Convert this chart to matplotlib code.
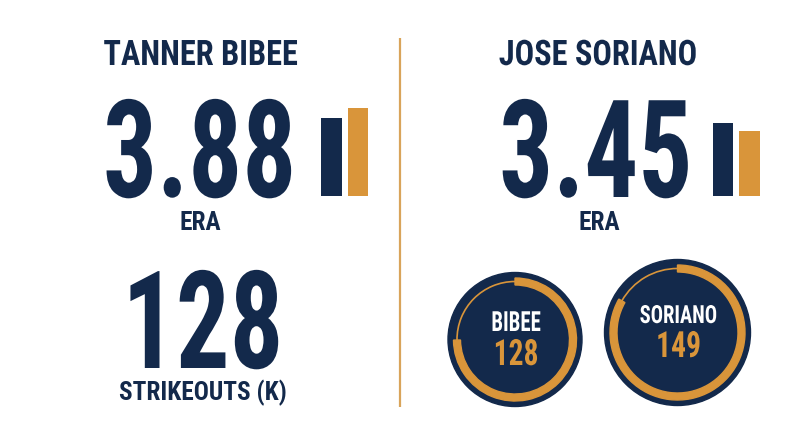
import matplotlib
matplotlib.use("Agg")
import matplotlib.pyplot as plt
from matplotlib import font_manager
from matplotlib.patches import Circle, Wedge, Arc
from matplotlib.patheffects import AbstractPathEffect
from matplotlib.transforms import Affine2D

# data
players = ["TANNER BIBEE", "JOSE SORIANO"]
short_names = ["BIBEE", "SORIANO"]
era = [3.88, 3.45]
era_text = ["3.88", "3.45"]
strikeouts = [128, 149]
ring_full = [171, 179]   # total the orange ring stands for, read off the rings

# colours
navy = "#13294b"
orange = "#d9953a"
divider = "#d9a45a"

# pick a condensed bold face
names = {f.name for f in font_manager.fontManager.ttflist}
if "Roboto Condensed" in names:
    fam, stretch = "Roboto Condensed", "normal"
elif "Liberation Sans Narrow" in names:
    fam, stretch = "Liberation Sans Narrow", "normal"
else:
    fam, stretch = "DejaVu Sans", "condensed"
tx = dict(family=fam, fontstretch=stretch, fontweight="bold")


class Squeeze(AbstractPathEffect):
    """narrow the glyphs a bit more, around the text's middle"""
    def __init__(self, sx):
        super().__init__()
        self.sx = sx

    def draw_path(self, renderer, gc, tpath, affine, rgbFace=None):
        ext = tpath.transformed(affine).get_extents()
        cx = (ext.x0 + ext.x1) / 2
        t = affine + Affine2D().translate(-cx, 0).scale(self.sx, 1).translate(cx, 0)
        renderer.draw_path(gc, tpath, t, rgbFace)


def label(x, y, s, size, color, sx=1.0, z=4):
    pe = [Squeeze(sx)] if sx != 1.0 else None
    ax.text(x, y, s, ha="center", va="baseline", fontsize=size, color=color,
            path_effects=pe, zorder=z, **tx)


fig = plt.figure(figsize=(8, 4.47), dpi=100)
ax = fig.add_axes([0, 0, 1, 1])
ax.set_xlim(0, 800)
ax.set_ylim(447, 0)
ax.axis("off")

W, H = 800, 447

# headers / big numbers
head_x = [200.5, 598]
num_x = [200, 596]
era_x = [200, 599]
for i in range(2):
    label(head_x[i], 65, players[i], 25.3, navy, sx=0.92)
    label(num_x[i], 197, era_text[i], 98, navy, sx=0.785)
    label(era_x[i], 230, "ERA", 18.2, navy)

label(202.5, 368, str(strikeouts[0]), 98, navy, sx=0.78)
label(202.5, 400, "STRIKEOUTS (K)", 18.2, navy)

# divider
ax.plot([400, 400], [38, 407], color=divider, lw=1.6, solid_capstyle="butt")

# era bars: navy = other pitcher, orange = this pitcher
bar_axes = [(318.25, 108, 196), (709.75, 123, 196)]
bar_vals = [[era[1], era[0]], [era[0], era[1]]]
for (x0, ytop, ybot), vals in zip(bar_axes, bar_vals):
    bx = fig.add_axes([x0 / W, (H - ybot) / H, 53 / W, (ybot - ytop) / H])
    bx.bar([0, 1], vals, width=0.78, color=[navy, orange])
    bx.set_xlim(-0.5, 1.5)
    bx.set_ylim(0, max(vals))
    bx.axis("off")

# strikeout rings
circles = [(515, 339.5, 67, 61.5), (677.5, 332.5, 73, 67.5)]
text_x = [516, 678.5]
text_y = [(331, 365), (323, 357)]
name_size = [20, 18]
name_sx = [0.75, 0.82]
for i, (cx, cy, r, r_ring) in enumerate(circles):
    ax.add_patch(Circle((cx, cy), r, color=navy, zorder=2))
    frac = strikeouts[i] / ring_full[i]
    end = -90 + frac * 360
    ax.add_patch(Wedge((cx, cy), r_ring, -90, end, width=7, color=orange, zorder=3))
    ax.add_patch(Arc((cx, cy), 2 * (r_ring - 3.5), 2 * (r_ring - 3.5), theta1=end, theta2=270,
                     color=orange, lw=1.2, zorder=3))
    label(text_x[i], text_y[i][0], short_names[i], name_size[i], "white", sx=name_sx[i])
    label(text_x[i], text_y[i][1], str(strikeouts[i]), 26, orange, sx=0.82)

fig.savefig("out.png", dpi=100)
